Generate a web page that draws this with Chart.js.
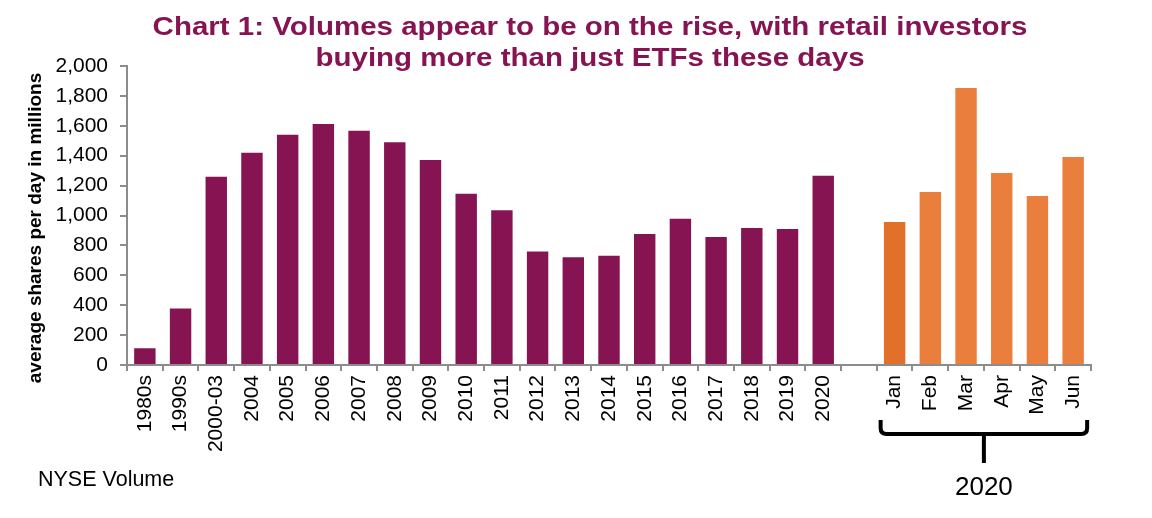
<!DOCTYPE html>
<html>
<head>
<meta charset="utf-8">
<script src="https://cdn.jsdelivr.net/npm/chart.js@4.4.1/dist/chart.umd.min.js"></script>
<style>
  html, body { margin: 0; padding: 0; background: #fff; }
  #wrap { width: 1152px; height: 518px; }
</style>
</head>
<body>
<div id="wrap"><canvas id="volChart" width="1152" height="518"></canvas></div>
<script>
// Data
const yearLabels = ['1980s','1990s','2000-03','2004','2005','2006','2007','2008','2009','2010','2011','2012','2013','2014','2015','2016','2017','2018','2019','2020']
const yearValues = [112, 378, 1260, 1420, 1540, 1612, 1567, 1490, 1371, 1146, 1035, 760, 720, 731, 876, 979, 856, 916, 910, 1266]
const monthLabels = ['Jan','Feb','Mar','Apr','May','Jun']
const monthValues = [957, 1157, 1853, 1284, 1130, 1391]
const yTicks = [0, 200, 400, 600, 800, 1000, 1200, 1400, 1600, 1800, 2000]

const titleLines = ['Chart 1: Volumes appear to be on the rise, with retail investors', 'buying more than just ETFs these days']
const yTitle = 'average shares per day in millions'
const bracketLabel = '2020'
const sourceText = 'NYSE Volume'

const PURPLE = '#861452'
const ORANGE = '#EA7E3C'
const ORANGE_DARK = '#E0702A'
const AXIS = '#8c8c8c'
const FONT = "'Liberation Sans', Arial, sans-serif"

const labels = [...yearLabels, '', ...monthLabels]
const values = [...yearValues, null, ...monthValues]
const colors = [...yearValues.map(() => PURPLE), 'rgba(0,0,0,0)', ...monthValues.map((v, i) => i === 0 ? ORANGE_DARK : ORANGE)]

// extra text + the bracket under the months
const decorPlugin = {
  id: 'decor',
  afterDraw(chart) {
    const ctx = chart.ctx
    const x = chart.scales.x
    ctx.save()

    // title (the original's type is a bit wider than Arial, so stretch it)
    ctx.fillStyle = PURPLE
    ctx.font = 'bold 25px ' + FONT
    ctx.textAlign = 'center'
    ctx.textBaseline = 'middle'
    ctx.save()
    ctx.translate(590, 0)
    ctx.scale(1.18, 1)
    ctx.fillText(titleLines[0], 0, 28)
    ctx.fillText(titleLines[1], 0, 59)
    ctx.restore()

    // y axis title
    ctx.save()
    ctx.translate(36, 228)
    ctx.rotate(-Math.PI / 2)
    ctx.fillStyle = '#000'
    ctx.font = 'bold 19px ' + FONT
    ctx.fillText(yTitle, 0, 0)
    ctx.restore()

    // bracket
    const first = yearLabels.length + 1
    const last = labels.length - 1
    const x0 = x.getPixelForValue(first) - 14
    const x1 = x.getPixelForValue(last) + 14
    const xm = (x.getPixelForValue(first) + x.getPixelForValue(last)) / 2
    const yTop = 420, yLine = 434, yStem = 463, r = 6
    ctx.strokeStyle = '#000'
    ctx.lineWidth = 4
    ctx.lineCap = 'butt'
    ctx.beginPath()
    ctx.moveTo(x0, yTop)
    ctx.lineTo(x0, yLine - r)
    ctx.quadraticCurveTo(x0, yLine, x0 + r, yLine)
    ctx.lineTo(x1 - r, yLine)
    ctx.quadraticCurveTo(x1, yLine, x1, yLine - r)
    ctx.lineTo(x1, yTop)
    ctx.moveTo(xm, yLine)
    ctx.lineTo(xm, yStem)
    ctx.stroke()

    ctx.fillStyle = '#000'
    ctx.font = '26px ' + FONT
    ctx.fillText(bracketLabel, xm, 488)

    // source
    ctx.textAlign = 'left'
    ctx.font = '21.5px ' + FONT
    ctx.fillText(sourceText, 38, 480)
    ctx.restore()
  }
}

let volChart

function initChart() {
  const ctx = document.getElementById('volChart')
  volChart = new Chart(ctx, {
    type: 'bar',
    data: {
      labels: labels,
      datasets: [{
        data: values,
        backgroundColor: colors,
        barPercentage: 0.6,
        categoryPercentage: 1.0
      }]
    },
    options: {
      responsive: false,
      animation: false,
      layout: { padding: { top: 66, right: 61, left: 0, bottom: 0 } },
      plugins: { legend: { display: false }, tooltip: { enabled: false }, title: { display: false } },
      scales: {
        x: {
          afterFit: s => { s.height = 153 },
          grid: { drawOnChartArea: false, offset: true, color: AXIS, lineWidth: 2, tickLength: 6 },
          border: { color: AXIS, width: 2 },
          ticks: { color: '#000', font: { family: FONT, size: 21 }, minRotation: 90, maxRotation: 90, autoSkip: false, padding: 4 }
        },
        y: {
          min: 0,
          max: 2000,
          afterFit: s => { s.width = 127 },
          afterBuildTicks: s => { s.ticks = yTicks.map(v => ({ value: v })) },
          grid: { drawOnChartArea: false, color: AXIS, lineWidth: 2, tickLength: 7 },
          border: { color: AXIS, width: 2 },
          ticks: {
            color: '#000',
            font: { family: FONT, size: 21 },
            padding: 12,
            callback: v => v.toLocaleString('en-US')
          }
        }
      }
    },
    plugins: [decorPlugin]
  })
}

document.addEventListener('DOMContentLoaded', initChart)
</script>
</body>
</html>
